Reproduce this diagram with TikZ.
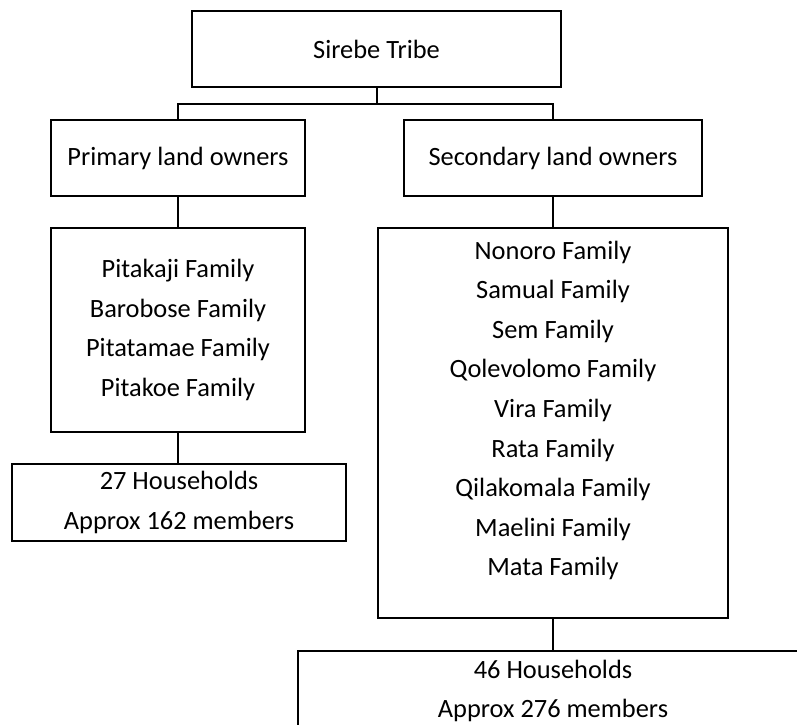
\documentclass[tikz,border=0pt]{standalone}
\usepackage{fontspec}
\setmainfont{Carlito}

\begin{document}
\begin{tikzpicture}[x=1pt, y=-1pt, line width=2pt,
    box/.style={draw, rectangle, inner sep=0pt, align=center},
    every node/.append style={font=\fontsize{26.4}{39.6}\selectfont}]
        \useasboundingbox (0,0) rectangle (797,724);
        \clip (0,0) rectangle (797,724);

        % Tribe
        \node[box, minimum width=369pt, minimum height=76pt] (tribe) at (376.5,49) {Sirebe Tribe};

        % Land owners
        \node[box, minimum width=254pt, minimum height=76pt] (prim) at (178,158) {Primary land owners};
        \node[box, minimum width=298pt, minimum height=76pt] (sec) at (553,158) {Secondary land owners};

        % Families
        \node[box, minimum width=254pt, minimum height=204pt] (primfam) at (178,330)
            {Pitakaji Family\\Barobose Family\\Pitatamae Family\\Pitakoe Family};
        \node[box, minimum width=350pt, minimum height=390pt] (secfam) at (553,423) {};
        \node[align=center, inner sep=0pt] (secnames) at ([yshift=12.5pt]secfam.center)
            {Nonoro Family\\Samual Family\\Sem Family\\Qolevolomo Family\\Vira Family\\Rata Family\\Qilakomala Family\\Maelini Family\\Mata Family};

        % Households
        \node[box, minimum width=334pt, minimum height=77pt] (primhh) at (179,502.5) {27 Households\\Approx 162 members};
        \node[box, minimum width=510pt, minimum height=80pt] (sechh) at (553,691) {46 Households\\Approx 276 members};

        \coordinate (barL) at (178,104);
        \coordinate (barR) at (553,104);

        % Connectors
        \draw (tribe.south) -- (tribe.south |- barL);
        \draw (prim.north) -- (barL) -- (barR) -- (sec.north);
        \draw (prim.south) -- (primfam.north);
        \draw (primfam.south) -- (primfam.south |- primhh.north);
        \draw (sec.south) -- (secfam.north);
        \draw (secfam.south) -- (sechh.north);
\end{tikzpicture}
\end{document}
